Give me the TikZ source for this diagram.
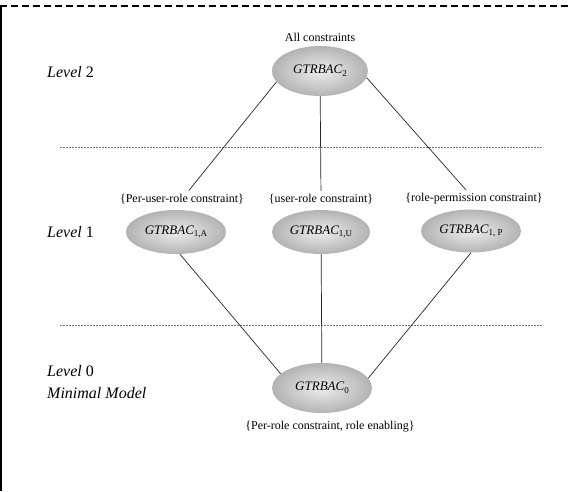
\documentclass[tikz,border=0pt]{standalone}
\usepackage{fontspec}
\setmainfont{Liberation Serif}
\usetikzlibrary{shapes.geometric}
\newcommand{\gsub}[1]{\raisebox{-0.45ex}{\fontsize{9}{10}\selectfont #1}}
\begin{document}
\begin{tikzpicture}[x=1pt,y=-1pt,
  ell/.style={ellipse, inner color=black!7, outer color=black!30, draw=none,
    minimum width=100pt, minimum height=46pt, inner sep=0pt,
    font=\fontsize{13}{15}\selectfont\itshape},
  lab/.style={font=\fontsize{12}{14}\selectfont, inner sep=1pt},
  lvl/.style={font=\fontsize{16}{19}\selectfont, anchor=west, inner sep=0pt},
  sepline/.style={draw=black!55, dash pattern=on 2pt off 1pt, line width=0.5pt},
  conn/.style={draw=black!85, line width=0.7pt}]
\useasboundingbox (0,0) rectangle (569,491);
% frame
\draw[line width=2pt, dash pattern=on 7pt off 4pt] (0,6) -- (569,6);
\draw[line width=2pt] (1,5) -- (1,491);
% separators
\coordinate (s1a) at (60,147); \coordinate (s1b) at (543,147);
\coordinate (s2a) at (60,325); \coordinate (s2b) at (543,325);
\draw[sepline] (s1a) -- (s1b);
\draw[sepline] (s2a) -- (s2b);
% level labels
\node[lvl] (lv2) at (47,72) {\textit{Level} 2};
\node[lvl] (lv1) at (47,232) {\textit{Level} 1};
\node[lvl] (lv0) at (47,371) {\textit{Level} 0};
\node[lvl] (mm) at (47,393) {\textit{Minimal Model}};
% ellipses
\node[ell, minimum width=96pt, minimum height=50pt] (g2) at (320,71) {GTRBAC\gsub{\upshape 2}};
\node[ell, minimum height=44pt] (ga) at (176,232) {GTRBAC\gsub{\upshape 1,A}};
\node[ell, minimum width=98pt, minimum height=44pt] (gu) at (321,232) {GTRBAC\gsub{\upshape 1,U}};
\node[ell, minimum height=43pt] (gp) at (471,231) {GTRBAC\gsub{\upshape 1, P}};
\node[ell, minimum height=50pt] (g0) at (322,388) {GTRBAC\gsub{\upshape 0}};
% texts
\node[lab] (all) at (320,37) {All constraints};
\node[lab] (la) at (182,199) {\{Per-user-role constraint\}};
\node[lab] (lu) at (321,199) {\{user-role constraint\}};
\node[lab] (lp) at (474,199) {\{role-permission constraint\}};
\node[lab] (l0) at (330,427) {\{Per-role constraint, role enabling\}};
% connectors
\draw[conn, shorten >=3pt] (g2.194) -- (la);
\draw[conn, shorten >=2pt] (g2) -- (lu);
\draw[conn, shorten >=3pt] (g2.-8) -- (lp);
\draw[conn] (ga.-80) -- (g0.161);
\draw[conn] (gu) -- (g0);
\draw[conn] (gp.-90) -- (g0.12);
\end{tikzpicture}
\end{document}
